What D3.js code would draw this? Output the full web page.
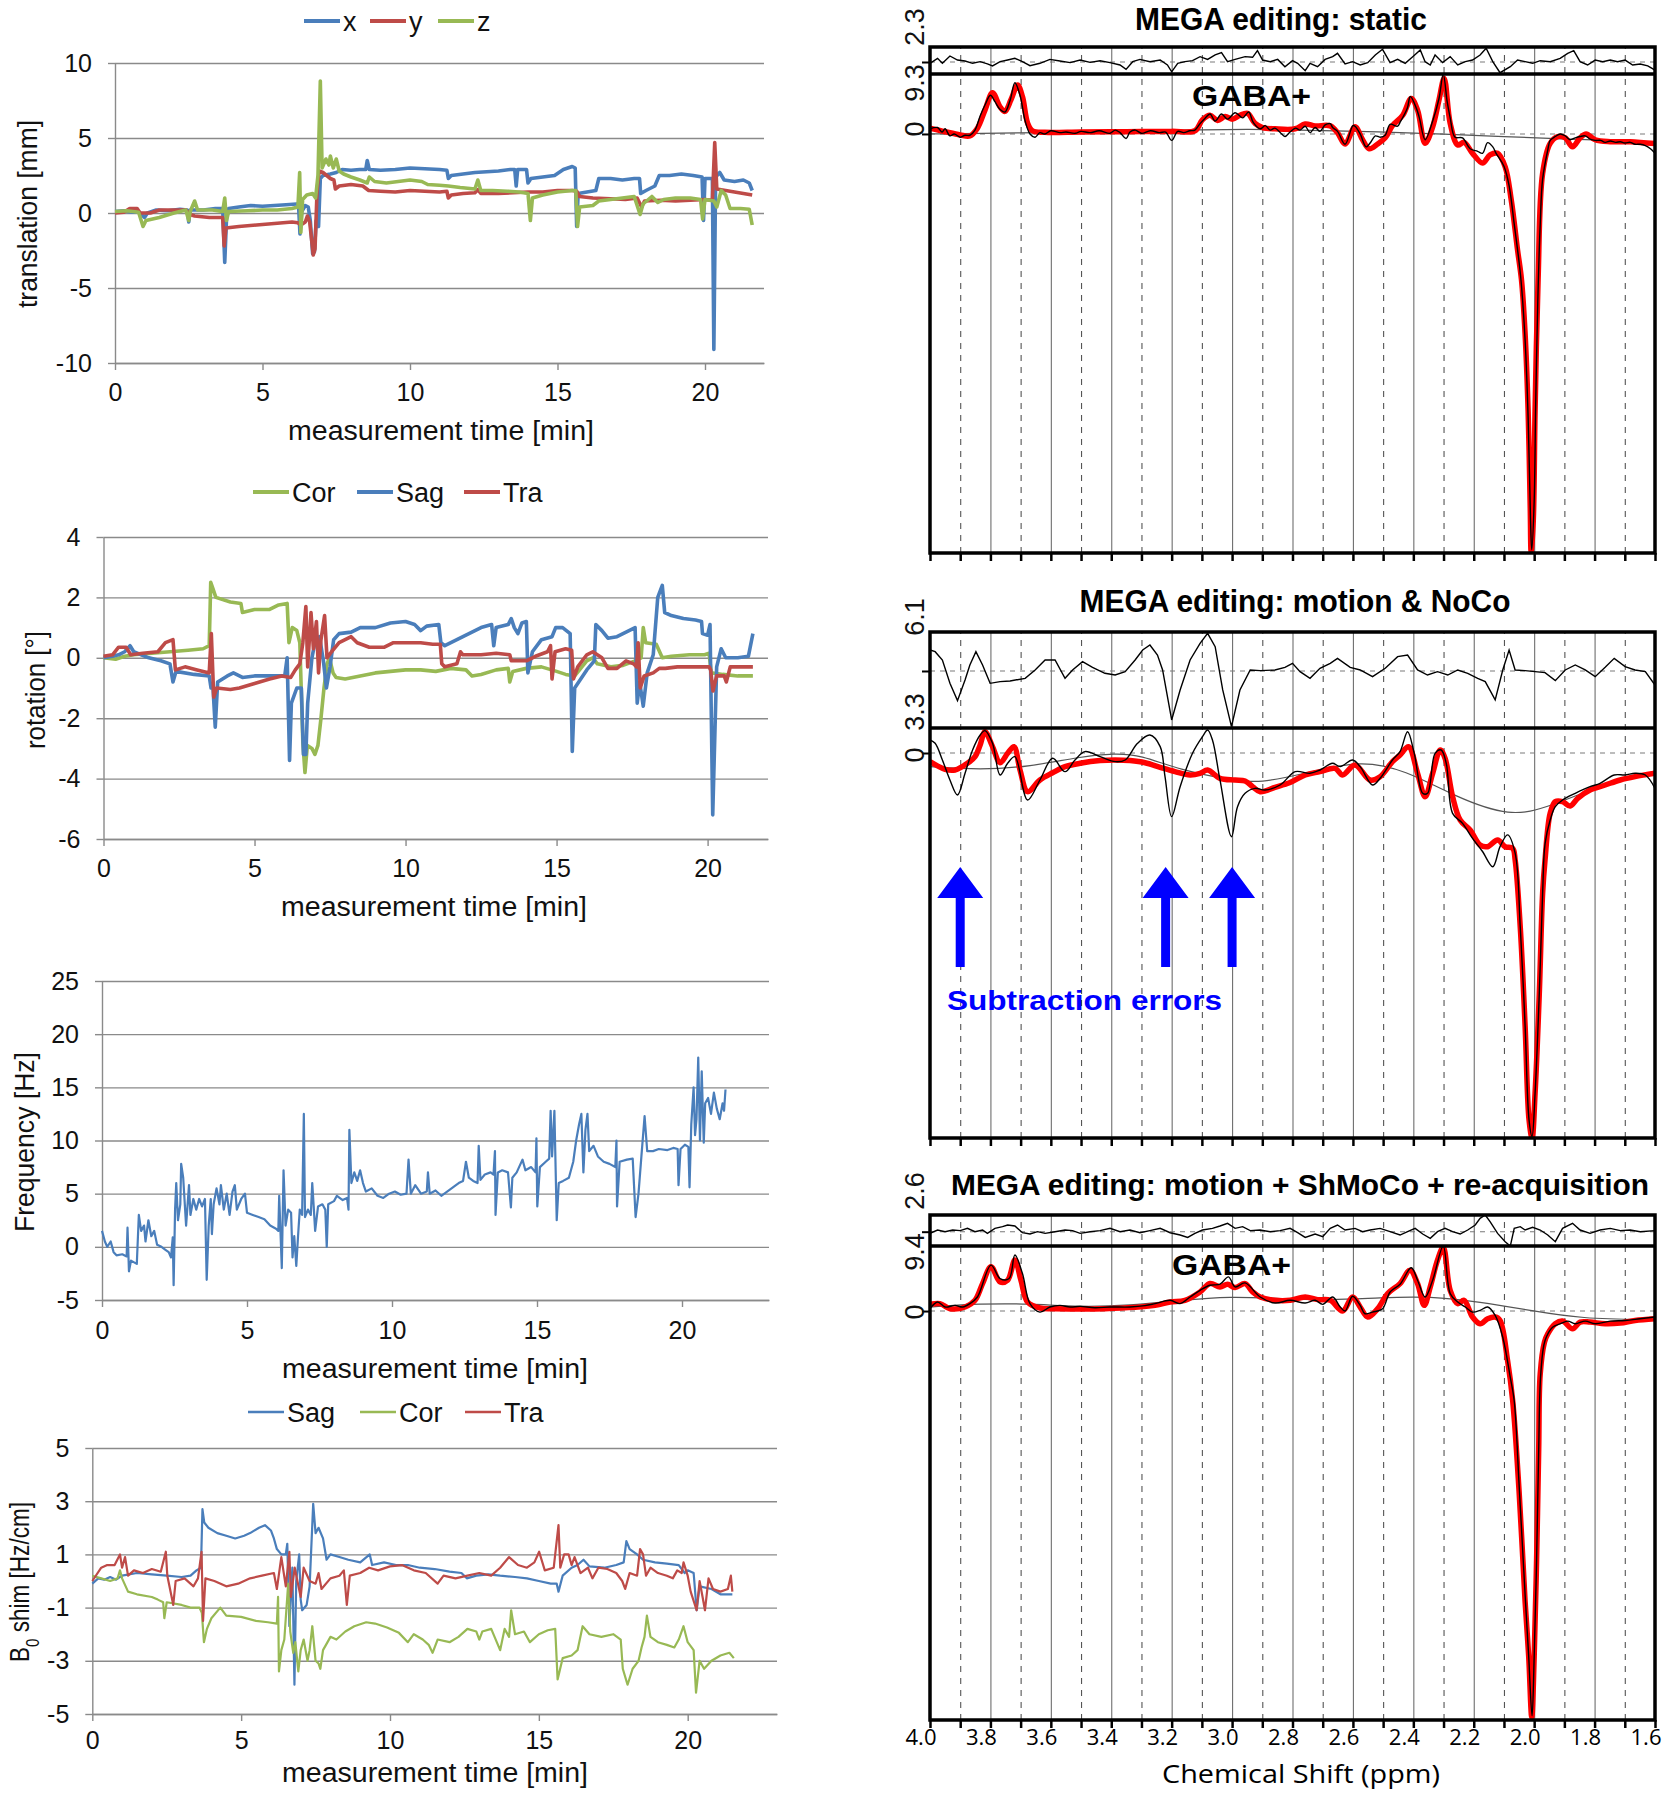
<!DOCTYPE html>
<html><head><meta charset="utf-8">
<script src="https://cdn.jsdelivr.net/npm/d3@7"></script>
<style>body{margin:0;background:#fff}svg{display:block}</style>
</head><body>
<svg id="c" width="1665" height="1800"></svg>
<script>
// ---------------- DATA ----------------
const timeTicks = [0, 5, 10, 15, 20];
const transTicks = [-10, -5, 0, 5, 10];
const rotTicks = [-6, -4, -2, 0, 2, 4];
const freqTicks = [-5, 0, 5, 10, 15, 20, 25];
const shimTicks = [-5, -3, -1, 1, 3, 5];

const transX = [[0,0.1],[0.3,0.15],[0.6,0.05],[0.8,0.1],[1.0,-0.3],[1.1,0.0],[1.4,0.2],[1.8,0.15],[2.2,0.25],[2.45,0.2],[2.5,-0.6],[2.55,0.2],[3.0,0.2],[3.4,0.3],[3.65,0.3],[3.72,-3.3],[3.78,-0.4],[3.85,0.3],[4.2,0.4],[4.6,0.5],[5.0,0.45],[5.4,0.5],[5.8,0.55],[6.15,0.6],[6.22,0.6],[6.27,-1.4],[6.33,0.1],[6.45,0.5],[6.55,0.4],[6.62,-0.5],[6.7,-2.7],[6.76,-2.6],[6.82,-0.5],[6.9,-0.9],[6.96,2.3],[7.05,2.5],[7.3,2.6],[7.5,2.7],[7.7,2.9],[8.0,2.85],[8.3,2.9],[8.5,2.9],[8.55,3.5],[8.62,2.9],[9.0,2.85],[9.5,2.9],[10.0,3.0],[10.5,2.95],[11.0,2.9],[11.25,2.85],[11.3,2.3],[11.4,2.5],[11.8,2.6],[12.2,2.7],[12.6,2.75],[13.0,2.8],[13.4,2.9],[13.55,2.9],[13.6,1.8],[13.65,2.9],[13.95,2.9],[14.0,2.0],[14.1,2.3],[14.5,2.4],[14.9,2.5],[15.2,2.9],[15.5,3.1],[15.6,3.0],[15.65,-0.9],[15.7,1.3],[16.0,1.4],[16.3,1.5],[16.4,2.3],[16.8,2.3],[17.2,2.2],[17.6,2.3],[17.78,2.3],[17.82,1.3],[18.0,1.5],[18.3,1.8],[18.45,2.5],[18.8,2.5],[19.2,2.6],[19.6,2.5],[19.9,2.4],[19.95,-0.5],[20.0,2.3],[20.25,2.3],[20.3,-9.1],[20.36,2.4],[20.5,2.7],[20.65,2.2],[21.0,2.1],[21.3,2.2],[21.5,2.0],[21.6,1.5]];
const transY = [[0,0.0],[0.3,0.05],[0.5,0.3],[0.75,0.3],[0.85,0.0],[1.2,0.0],[1.5,0.2],[2.0,0.2],[2.4,0.2],[2.55,-0.1],[2.7,-0.2],[3.2,-0.3],[3.65,-0.3],[3.7,-2.2],[3.76,-1.0],[4.2,-0.9],[4.8,-0.8],[5.4,-0.7],[6.0,-0.6],[6.2,-0.65],[6.3,-0.8],[6.45,-0.6],[6.52,-0.2],[6.6,-0.6],[6.72,-2.8],[6.78,-2.4],[6.85,1.5],[6.92,2.8],[7.05,2.7],[7.3,2.3],[7.42,2.2],[7.47,1.6],[7.6,1.8],[8.0,1.9],[8.4,1.8],[8.6,1.5],[9.0,1.45],[9.5,1.4],[10.0,1.5],[10.5,1.45],[11.0,1.4],[11.25,1.45],[11.3,1.0],[11.4,1.2],[11.8,1.3],[12.2,1.35],[12.3,1.55],[12.4,1.3],[13.0,1.3],[13.5,1.35],[14.0,1.4],[14.5,1.4],[15.0,1.5],[15.5,1.5],[15.65,1.45],[15.75,1.1],[16.2,1.0],[16.8,0.95],[17.3,0.9],[17.7,1.0],[17.85,0.4],[17.95,0.8],[18.5,0.85],[19.0,0.8],[19.5,0.85],[20.0,0.9],[20.25,0.85],[20.33,4.7],[20.4,1.6],[20.7,1.5],[21.0,1.4],[21.3,1.3],[21.6,1.2]];
const transZ = [[0,0.1],[0.4,0.15],[0.8,0.05],[0.95,-0.9],[1.05,-0.5],[1.5,-0.3],[2.0,0.0],[2.4,0.2],[2.5,-0.5],[2.55,0.1],[2.7,0.8],[2.8,0.2],[3.3,0.2],[3.65,0.1],[3.72,1.0],[3.78,-0.5],[3.85,0.1],[4.5,0.15],[5.0,0.2],[5.5,0.2],[6.0,0.3],[6.2,0.4],[6.26,2.7],[6.3,-1.3],[6.36,0.9],[6.5,1.2],[6.7,1.3],[6.8,1.0],[6.88,2.5],[6.96,8.8],[7.02,3.0],[7.15,3.6],[7.25,3.2],[7.3,3.8],[7.4,3.0],[7.5,3.6],[7.6,2.8],[7.75,2.6],[8.0,2.4],[8.3,2.2],[8.55,2.0],[8.62,2.4],[8.8,2.1],[9.2,2.0],[9.6,2.1],[10.0,2.2],[10.4,2.1],[10.6,1.9],[11.0,1.85],[11.3,1.8],[11.7,1.7],[12.2,1.6],[12.3,2.2],[12.4,1.5],[12.8,1.5],[13.3,1.45],[13.7,1.4],[14.0,1.3],[14.08,-0.5],[14.15,1.0],[14.5,1.2],[15.0,1.4],[15.5,1.5],[15.62,1.5],[15.68,-0.9],[15.75,0.4],[16.2,0.5],[16.4,0.8],[16.8,0.9],[17.2,1.0],[17.6,1.1],[17.8,-0.1],[17.9,0.6],[18.2,1.1],[18.4,0.7],[18.6,0.9],[19.0,1.0],[19.5,1.0],[19.85,0.9],[19.92,-0.4],[20.0,0.9],[20.3,0.8],[20.4,0.4],[20.55,1.5],[20.7,1.2],[20.85,0.3],[21.2,0.3],[21.5,0.25],[21.6,-0.8]];

const rotCor = [[0,0.0],[0.4,-0.05],[0.7,0.05],[1.0,0.1],[1.6,0.15],[2.2,0.2],[2.8,0.25],[3.3,0.3],[3.5,0.4],[3.55,2.5],[3.62,2.3],[3.72,2.0],[4.2,1.85],[4.55,1.8],[4.6,1.5],[5.0,1.6],[5.5,1.6],[5.8,1.75],[6.08,1.8],[6.14,0.5],[6.25,1.0],[6.4,0.9],[6.5,0.5],[6.6,-2.8],[6.67,-3.8],[6.75,-2.9],[6.9,-3.0],[7.0,-3.2],[7.1,-2.9],[7.2,-2.0],[7.3,-1.0],[7.4,-0.2],[7.48,0.0],[7.6,-0.5],[7.7,-0.65],[8.0,-0.7],[8.5,-0.6],[9.0,-0.5],[9.5,-0.45],[10.0,-0.4],[10.5,-0.4],[11.0,-0.45],[11.5,-0.35],[12.0,-0.4],[12.2,-0.6],[12.5,-0.55],[13.0,-0.4],[13.4,-0.35],[13.45,-0.8],[13.55,-0.45],[14.0,-0.35],[14.5,-0.3],[15.0,-0.45],[15.3,-0.55],[15.6,-0.6],[15.8,-0.35],[16.0,-0.1],[16.2,0.0],[16.35,-0.2],[16.8,-0.3],[17.2,-0.25],[17.6,-0.1],[17.8,0.0],[17.87,1.0],[17.95,0.5],[18.3,0.45],[18.5,0.0],[18.8,0.05],[19.4,0.1],[19.9,0.1],[20.05,0.15],[20.12,-0.5],[20.5,-0.55],[21.0,-0.6],[21.5,-0.6]];
const rotSag = [[0,0.0],[0.3,0.05],[0.5,0.1],[0.7,0.2],[0.88,0.4],[1.0,0.2],[1.5,0.0],[1.9,-0.1],[2.2,-0.2],[2.3,-0.8],[2.4,-0.45],[3.0,-0.55],[3.5,-0.6],[3.56,-1.0],[3.62,-0.9],[3.7,-2.3],[3.78,-0.8],[4.1,-0.6],[4.3,-0.5],[4.6,-0.65],[5.0,-0.6],[5.5,-0.6],[6.0,-0.6],[6.08,0.0],[6.16,-3.4],[6.22,-1.5],[6.4,-1.0],[6.55,-1.0],[6.62,-3.2],[6.7,-3.2],[6.76,-1.5],[6.9,0.0],[7.0,0.5],[7.15,0.7],[7.28,-0.1],[7.38,-1.0],[7.5,-0.3],[7.62,0.6],[7.8,0.8],[8.2,0.85],[8.5,1.0],[9.0,1.0],[9.5,1.15],[10.0,1.2],[10.3,1.1],[10.5,0.9],[10.7,1.05],[11.1,1.1],[11.17,0.5],[11.3,0.4],[11.7,0.6],[12.1,0.8],[12.5,1.0],[12.85,1.1],[12.92,0.4],[13.0,1.0],[13.4,1.1],[13.5,1.3],[13.6,1.0],[13.72,0.8],[13.85,1.15],[14.0,1.2],[14.05,-0.5],[14.2,0.2],[14.5,0.6],[14.85,0.7],[14.97,1.0],[15.2,1.0],[15.45,0.8],[15.52,-3.1],[15.6,-1.0],[15.8,-0.7],[16.0,-0.4],[16.25,-0.1],[16.3,1.1],[16.5,0.9],[16.7,0.65],[17.0,0.7],[17.3,0.85],[17.6,1.0],[17.67,-1.5],[17.75,-0.8],[17.87,-1.6],[18.0,-0.5],[18.2,0.1],[18.35,2.0],[18.5,2.4],[18.58,1.5],[18.8,1.4],[19.2,1.3],[19.6,1.25],[19.8,1.2],[19.83,0.8],[20.0,0.75],[20.08,1.1],[20.17,-5.2],[20.3,-0.3],[20.45,0.3],[20.6,0.0],[21.0,0.0],[21.35,0.05],[21.5,0.8]];
const rotTra = [[0,0.05],[0.3,0.1],[0.5,0.35],[0.75,0.35],[0.9,0.1],[1.3,0.15],[1.8,0.2],[2.05,0.5],[2.3,0.6],[2.38,-0.4],[2.7,-0.3],[3.1,-0.4],[3.5,-0.5],[3.57,0.8],[3.65,-1.3],[3.75,-1.0],[4.2,-1.05],[4.5,-1.0],[5.0,-0.85],[5.5,-0.7],[5.9,-0.6],[6.2,-0.65],[6.35,-0.4],[6.5,-0.2],[6.6,0.5],[6.7,1.7],[6.76,-0.3],[6.87,1.5],[6.95,0.3],[7.05,1.2],[7.12,-0.5],[7.2,0.6],[7.32,1.4],[7.4,0.0],[7.55,0.2],[7.8,0.5],[8.0,0.6],[8.2,0.7],[8.4,0.5],[8.8,0.35],[9.3,0.35],[9.6,0.5],[10.0,0.5],[10.5,0.5],[10.9,0.45],[11.15,0.45],[11.2,-0.2],[11.3,-0.3],[11.7,-0.2],[11.82,0.2],[11.9,0.1],[12.5,0.1],[13.0,0.15],[13.45,0.1],[13.5,-0.1],[14.0,-0.1],[14.3,0.05],[14.7,0.2],[14.8,0.4],[14.85,-0.7],[14.95,0.2],[15.3,0.3],[15.5,0.25],[15.56,-0.7],[15.7,-0.3],[16.0,0.1],[16.2,0.2],[16.5,0.0],[16.7,-0.35],[17.0,-0.35],[17.3,-0.1],[17.55,-0.2],[17.65,-0.3],[17.7,0.5],[17.77,-1.0],[17.9,-0.6],[18.2,-0.5],[18.4,-0.35],[18.6,-0.35],[19.0,-0.3],[19.5,-0.3],[20.05,-0.3],[20.1,-0.4],[20.18,-1.1],[20.3,-0.6],[20.55,-0.6],[20.62,-0.8],[20.75,-0.3],[21.0,-0.3],[21.5,-0.3]];

const freq = [[0,1.5],[0.1,0.5],[0.18,0.0],[0.3,0.5],[0.4,-0.5],[0.5,-0.8],[0.7,-0.7],[0.85,-0.9],[0.88,1.8],[0.93,-2.3],[1.0,-1.3],[1.2,-1.6],[1.27,3.0],[1.35,1.5],[1.45,2.0],[1.5,0.5],[1.6,2.5],[1.7,1.0],[1.8,1.5],[1.9,0.2],[2.05,0.0],[2.2,-0.3],[2.3,-0.5],[2.38,-1.0],[2.44,0.9],[2.47,-3.6],[2.52,3.5],[2.56,6.0],[2.62,2.5],[2.7,4.0],[2.73,7.8],[2.8,6.5],[2.9,2.0],[3.0,5.8],[3.05,3.0],[3.15,4.5],[3.25,3.5],[3.35,4.5],[3.45,3.8],[3.55,4.5],[3.61,-3.1],[3.68,2.0],[3.75,4.5],[3.79,1.2],[3.85,4.0],[3.95,5.5],[4.05,4.0],[4.1,5.8],[4.2,3.5],[4.3,5.0],[4.4,3.0],[4.5,5.2],[4.58,5.8],[4.65,3.5],[4.8,4.5],[4.93,5.0],[5.0,3.2],[5.2,3.0],[5.4,2.8],[5.6,2.6],[5.8,2.0],[6.0,1.7],[6.08,1.5],[6.11,4.8],[6.2,-2.0],[6.26,7.2],[6.33,2.0],[6.42,3.5],[6.52,3.2],[6.57,-1.0],[6.63,1.0],[6.7,-1.8],[6.76,1.0],[6.82,3.5],[6.9,3.0],[6.96,12.5],[7.0,2.8],[7.1,3.5],[7.2,3.0],[7.25,6.0],[7.3,3.8],[7.35,1.5],[7.45,3.8],[7.6,4.0],[7.7,3.5],[7.75,0.0],[7.8,4.0],[8.0,4.3],[8.1,4.8],[8.3,4.4],[8.45,4.6],[8.5,3.5],[8.53,11.0],[8.6,6.0],[8.7,7.0],[8.8,6.2],[8.9,7.2],[9.0,6.0],[9.1,5.2],[9.3,5.5],[9.5,4.8],[9.7,4.6],[9.9,5.0],[10.1,5.2],[10.3,4.9],[10.5,5.0],[10.57,8.2],[10.65,5.0],[10.8,5.8],[11.0,5.0],[11.2,5.2],[11.24,7.0],[11.3,5.0],[11.5,5.3],[11.7,4.8],[11.9,5.2],[12.1,5.6],[12.3,6.0],[12.45,6.2],[12.55,8.0],[12.65,6.5],[12.8,6.2],[12.95,6.0],[12.99,9.5],[13.05,6.3],[13.2,6.8],[13.4,7.0],[13.5,6.8],[13.55,9.0],[13.57,3.0],[13.65,7.0],[13.8,7.2],[14.0,7.0],[14.1,3.7],[14.15,6.5],[14.3,7.0],[14.5,8.2],[14.6,7.2],[14.8,7.5],[14.95,7.0],[14.98,10.2],[15.01,3.8],[15.1,7.5],[15.3,8.0],[15.42,8.3],[15.47,12.8],[15.52,8.5],[15.6,12.8],[15.68,2.5],[15.75,6.0],[15.9,6.2],[16.1,6.5],[16.25,8.0],[16.35,10.0],[16.45,11.5],[16.53,12.5],[16.6,7.0],[16.67,11.0],[16.74,12.5],[16.8,9.0],[16.95,9.5],[17.1,8.5],[17.3,8.0],[17.5,7.8],[17.7,7.5],[17.74,10.0],[17.76,3.8],[17.85,8.0],[18.1,8.2],[18.3,8.3],[18.4,2.8],[18.5,5.0],[18.6,8.5],[18.71,12.3],[18.8,9.0],[19.0,9.0],[19.2,9.2],[19.5,9.1],[19.7,9.3],[19.85,9.2],[19.88,5.8],[19.95,9.2],[20.1,9.6],[20.22,9.4],[20.26,5.6],[20.32,11.5],[20.4,15.0],[20.45,10.5],[20.5,12.0],[20.56,17.8],[20.62,10.0],[20.68,16.5],[20.75,9.8],[20.8,13.5],[20.9,14.0],[21.0,12.5],[21.1,14.5],[21.2,13.0],[21.3,12.0],[21.4,13.5],[21.45,12.8],[21.5,14.8]];

const shimSag = [[0,-0.1],[0.2,0.1],[0.4,0.05],[0.6,0.15],[0.8,0.05],[1.0,0.2],[1.5,0.3],[2.0,0.25],[2.5,0.2],[3.0,0.15],[3.3,0.2],[3.5,0.4],[3.65,0.5],[3.7,2.7],[3.76,2.2],[3.9,2.0],[4.2,1.8],[4.5,1.7],[4.8,1.6],[5.1,1.7],[5.3,1.8],[5.6,2.0],[5.8,2.1],[6.0,1.9],[6.1,1.6],[6.2,1.2],[6.35,1.0],[6.5,1.0],[6.55,1.4],[6.62,-1.7],[6.72,0.5],[6.79,-3.9],[6.85,0.0],[6.95,1.0],[7.0,-0.7],[7.05,-1.1],[7.2,-0.9],[7.3,-0.2],[7.42,2.9],[7.5,1.8],[7.6,2.0],[7.75,1.6],[7.87,0.8],[8.0,1.0],[8.3,0.9],[8.6,0.8],[9.0,0.7],[9.32,1.0],[9.4,0.6],[9.8,0.7],[10.2,0.6],[10.6,0.6],[11.0,0.5],[11.5,0.45],[12.0,0.35],[12.4,0.3],[12.58,0.1],[12.9,0.2],[13.3,0.25],[13.7,0.2],[14.2,0.15],[14.6,0.1],[15.0,0.0],[15.4,-0.1],[15.6,-0.1],[15.66,-0.4],[15.8,0.2],[16.1,0.5],[16.3,0.6],[16.5,0.8],[16.7,0.55],[17.2,0.5],[17.6,0.6],[17.85,0.7],[17.94,1.5],[18.05,1.2],[18.3,1.0],[18.5,0.8],[18.9,0.7],[19.3,0.65],[19.7,0.6],[19.9,0.3],[20.0,0.4],[20.2,0.3],[20.3,-1.1],[20.4,-0.2],[20.8,-0.3],[21.1,-0.5],[21.5,-0.5]];
const shimCor = [[0,0.2],[0.3,0.1],[0.6,0.0],[0.85,0.1],[0.93,0.4],[1.0,0.1],[1.2,-0.4],[1.5,-0.5],[2.0,-0.6],[2.2,-0.7],[2.38,-0.8],[2.42,-1.4],[2.5,-0.8],[3.0,-0.9],[3.3,-1.0],[3.6,-1.0],[3.68,-1.2],[3.75,-2.3],[3.85,-1.8],[4.0,-1.4],[4.3,-1.0],[4.5,-1.3],[5.0,-1.35],[5.5,-1.5],[5.9,-1.55],[6.2,-1.6],[6.24,-0.6],[6.27,-3.4],[6.35,-2.6],[6.45,-2.2],[6.58,-0.1],[6.65,-1.9],[6.75,-2.7],[6.82,-2.3],[6.92,-3.4],[7.0,-2.6],[7.1,-2.2],[7.23,-3.0],[7.3,-2.6],[7.39,-1.7],[7.5,-3.0],[7.6,-3.1],[7.66,-3.3],[7.75,-2.6],[7.85,-2.4],[8.0,-2.1],[8.2,-2.2],[8.5,-1.9],[8.8,-1.7],[9.2,-1.55],[9.5,-1.6],[9.9,-1.75],[10.3,-1.95],[10.6,-2.3],[10.8,-2.0],[11.1,-2.2],[11.3,-2.4],[11.43,-2.7],[11.6,-2.2],[12.0,-2.3],[12.3,-2.1],[12.6,-1.8],[12.9,-1.9],[13.0,-2.2],[13.1,-1.9],[13.4,-1.8],[13.7,-2.6],[13.85,-1.8],[14.0,-2.1],[14.07,-1.1],[14.2,-2.0],[14.5,-1.9],[14.7,-2.3],[15.0,-2.0],[15.3,-1.85],[15.55,-1.8],[15.63,-3.7],[15.8,-2.9],[16.1,-2.8],[16.3,-2.6],[16.47,-1.7],[16.7,-2.0],[17.1,-2.1],[17.5,-2.0],[17.75,-2.2],[17.82,-3.3],[17.98,-3.9],[18.15,-3.3],[18.35,-3.0],[18.45,-2.5],[18.55,-2.1],[18.63,-1.3],[18.75,-2.1],[19.0,-2.3],[19.3,-2.4],[19.55,-2.5],[19.7,-2.2],[19.86,-1.7],[20.0,-2.3],[20.2,-2.6],[20.28,-4.2],[20.4,-3.0],[20.55,-3.3],[20.8,-3.0],[21.1,-2.8],[21.4,-2.7],[21.55,-2.9]];
const shimTra = [[0,0.0],[0.3,0.5],[0.5,0.6],[0.75,0.6],[0.93,1.0],[1.0,0.5],[1.1,0.9],[1.2,0.2],[1.4,0.4],[1.7,0.3],[2.0,0.45],[2.3,0.35],[2.47,1.1],[2.52,0.2],[2.72,-0.9],[2.8,0.0],[3.1,0.1],[3.4,-0.2],[3.55,0.1],[3.67,1.1],[3.72,-1.5],[3.8,0.1],[4.1,0.0],[4.5,-0.2],[4.9,-0.1],[5.3,0.1],[5.7,0.2],[6.1,0.3],[6.2,-0.3],[6.3,0.5],[6.35,0.9],[6.5,-0.2],[6.62,1.1],[6.67,-0.6],[6.8,0.5],[7.0,-0.6],[7.1,0.5],[7.3,0.0],[7.5,-0.1],[7.6,0.3],[7.7,-0.3],[8.0,0.1],[8.3,0.2],[8.45,0.4],[8.55,-0.9],[8.65,0.2],[9.0,0.3],[9.3,0.5],[9.6,0.4],[10.0,0.55],[10.4,0.6],[10.8,0.4],[11.2,0.3],[11.6,-0.1],[11.8,0.2],[12.2,0.1],[12.6,0.2],[13.0,0.3],[13.4,0.2],[13.7,0.5],[14.0,0.9],[14.3,0.6],[14.6,0.5],[14.85,0.7],[15.01,1.1],[15.2,0.4],[15.5,0.5],[15.66,2.1],[15.72,0.5],[15.85,1.0],[16.0,1.0],[16.1,0.6],[16.2,0.9],[16.4,0.3],[16.65,0.5],[16.8,0.1],[17.0,0.5],[17.3,0.45],[17.6,0.3],[17.8,0.0],[17.9,-0.3],[18.05,0.3],[18.3,0.2],[18.4,1.2],[18.5,1.0],[18.6,0.2],[18.75,0.5],[19.0,0.3],[19.3,0.2],[19.5,0.1],[19.65,0.4],[19.8,0.3],[19.86,0.7],[20.0,0.2],[20.1,-0.4],[20.3,-1.1],[20.4,0.0],[20.5,-0.6],[20.58,-1.1],[20.7,0.1],[20.85,-0.3],[21.1,-0.4],[21.35,-0.3],[21.45,0.2],[21.5,-0.4]];

// spectra: [ppm, amplitude]
const ppmTickLabels = ['4.0','3.8','3.6','3.4','3.2','3.0','2.8','2.6','2.4','2.2','2.0','1.8','1.6'];
const arrowPpm = [3.9, 3.22, 3.0];

const staticRes = [[4.0,-0.2],[3.975,0.56],[3.959,-0.2],[3.934,0.92],[3.909,0.3],[3.884,0.15],[3.859,-0.2],[3.834,0.05],[3.81,-0.3],[3.793,-0.6],[3.768,0.05],[3.743,0.3],[3.719,0.56],[3.694,0.05],[3.669,-0.56],[3.636,-0.2],[3.603,0.4],[3.57,0.15],[3.536,-0.1],[3.503,0.3],[3.47,-0.05],[3.437,0.2],[3.404,-0.1],[3.371,-0.46],[3.351,-1.13],[3.329,0.05],[3.305,0.4],[3.272,0.05],[3.238,0.3],[3.214,-0.46],[3.2,-1.5],[3.18,-0.2],[3.156,0.05],[3.131,0.2],[3.106,0.82],[3.081,0.4],[3.056,1.08],[3.035,1.44],[3.015,0.05],[2.99,0.4],[2.957,0.82],[2.932,0.72],[2.916,1.74],[2.899,0.3],[2.874,0.05],[2.849,0.4],[2.825,-0.72],[2.8,0.2],[2.783,-0.2],[2.758,-1.33],[2.742,-0.2],[2.717,-0.72],[2.692,0.4],[2.667,0.82],[2.651,1.33],[2.626,-0.3],[2.601,0.05],[2.576,-0.46],[2.551,-0.1],[2.526,1.08],[2.502,1.95],[2.477,-0.1],[2.452,0.4],[2.427,-0.2],[2.402,0.82],[2.377,1.85],[2.361,0.05],[2.344,-0.46],[2.328,1.08],[2.303,-0.1],[2.278,0.82],[2.253,-0.46],[2.228,0.05],[2.204,0.3],[2.179,1.08],[2.159,2.1],[2.137,0.05],[2.113,-1.64],[2.079,-0.72],[2.055,0.3],[2.03,0.05],[2.005,-0.2],[1.98,0.2],[1.947,0.05],[1.914,0.56],[1.889,1.33],[1.869,1.74],[1.848,0.05],[1.823,-0.46],[1.798,0.3],[1.773,0.05],[1.748,0.3],[1.724,0.05],[1.699,0.3],[1.674,-0.46],[1.649,-0.3],[1.624,-0.6],[1.6,-1.23]];
const staticData = [[4.0,0.8],[3.975,1.0],[3.96,0.3],[3.95,0.8],[3.934,-0.3],[3.92,0.0],[3.90,-0.5],[3.884,-0.2],[3.868,-0.2],[3.851,0.6],[3.834,2.8],[3.818,4.5],[3.80,6.0],[3.785,5.0],[3.768,3.8],[3.752,3.4],[3.735,5.2],[3.719,7.95],[3.702,6.0],[3.685,2.0],[3.669,0.0],[3.652,-0.5],[3.636,0.2],[3.62,0.0],[3.60,0.5],[3.57,0.2],[3.55,0.3],[3.52,0.1],[3.50,0.4],[3.47,0.2],[3.44,0.5],[3.404,0.1],[3.387,0.6],[3.371,0.2],[3.351,-0.7],[3.338,0.3],[3.32,0.6],[3.30,0.1],[3.27,0.5],[3.24,0.2],[3.22,0.3],[3.20,-1.0],[3.18,0.4],[3.16,0.2],[3.14,0.5],[3.123,0.6],[3.106,1.6],[3.09,2.4],[3.073,3.1],[3.056,2.0],[3.035,3.1],[3.015,2.3],[2.99,3.3],[2.965,2.5],[2.945,3.4],[2.93,1.8],[2.907,0.8],[2.89,1.3],[2.874,0.6],[2.858,0.9],[2.84,0.2],[2.825,-0.4],[2.808,0.3],[2.79,0.9],[2.775,0.6],[2.758,1.2],[2.742,0.2],[2.725,1.0],[2.709,0.4],[2.692,1.4],[2.675,1.6],[2.667,1.0],[2.651,0.4],[2.626,-1.6],[2.60,1.3],[2.593,1.2],[2.576,0.0],[2.556,-2.0],[2.54,-1.2],[2.526,-0.3],[2.51,-0.5],[2.493,-0.2],[2.477,1.5],[2.452,1.2],[2.444,1.8],[2.42,4.0],[2.41,5.8],[2.39,4.0],[2.38,2.5],[2.361,-0.9],[2.336,2.0],[2.315,5.5],[2.301,9.3],[2.288,5.0],[2.278,2.5],[2.262,-0.5],[2.237,-0.6],[2.212,-2.3],[2.187,-2.7],[2.171,-3.0],[2.154,-1.35],[2.137,-2.0],[2.126,-3.0],[2.10,-5.0],[2.083,-8.0],[2.066,-14],[2.045,-22],[2.03,-32],[2.02,-44],[2.012,-60],[2.008,-64.5],[2.0,-57],[1.995,-42],[1.988,-26],[1.98,-14],[1.972,-7],[1.955,-2.5],[1.947,-1.0],[1.93,-0.4],[1.914,0.0],[1.897,-0.3],[1.881,-0.9],[1.864,-0.6],[1.848,-0.4],[1.831,-0.3],[1.815,-0.8],[1.798,-1.0],[1.78,-1.0],[1.765,-1.3],[1.748,-1.1],[1.73,-1.3],[1.715,-1.2],[1.70,-1.4],[1.682,-1.3],[1.666,-1.6],[1.649,-1.6],[1.632,-1.8],[1.615,-2.3],[1.6,-3.0]];
const staticFit = [[4.0,0.9],[3.95,0.35],[3.90,-0.15],[3.868,-0.3],[3.843,0.9],[3.818,3.7],[3.793,6.4],[3.768,4.2],[3.752,3.5],[3.732,5.3],[3.71,7.6],[3.694,5.8],[3.677,1.7],[3.661,0.5],[3.62,0.25],[3.5,0.3],[3.35,0.35],[3.2,0.4],[3.123,0.5],[3.098,2.2],[3.073,2.9],[3.048,2.1],[3.023,2.7],[2.998,2.3],[2.974,2.9],[2.949,3.2],[2.924,1.65],[2.899,1.0],[2.858,0.8],[2.791,0.8],[2.758,1.55],[2.725,1.25],[2.675,1.25],[2.651,0.2],[2.626,-1.55],[2.593,1.1],[2.568,-0.9],[2.546,-2.3],[2.518,-1.55],[2.493,-0.6],[2.469,1.3],[2.435,2.9],[2.407,5.5],[2.386,3.7],[2.361,-1.45],[2.336,1.1],[2.315,5.3],[2.298,8.6],[2.278,1.65],[2.253,-1.7],[2.232,-1.3],[2.204,-3.0],[2.171,-4.5],[2.146,-3.25],[2.121,-3.0],[2.096,-5.1],[2.076,-10.2],[2.055,-18],[2.042,-22.6],[2.03,-31],[2.02,-43],[2.013,-58],[2.01,-64.8],[2.003,-60],[1.997,-43],[1.987,-22.6],[1.972,-6.1],[1.947,-1.45],[1.922,-0.4],[1.897,-0.6],[1.873,-2.0],[1.848,-0.6],[1.828,0],[1.798,-0.9],[1.748,-1.2],[1.682,-1.2],[1.6,-1.5]];
const staticBase = [[4.0,0.0],[3.7,0.15],[3.4,0.4],[3.1,0.65],[2.95,0.75],[2.8,0.65],[2.5,0.3],[2.3,0.0],[2.1,-0.4],[1.9,-0.8],[1.75,-1.0],[1.6,-1.2]];

const motionRes = [[4.0,3.28],[3.983,3.02],[3.959,1.72],[3.934,-1.93],[3.909,-4.64],[3.884,-1.41],[3.868,0.94],[3.848,3.02],[3.826,0.94],[3.801,-1.93],[3.768,-1.67],[3.735,-1.56],[3.685,-1.15],[3.652,0.16],[3.619,1.72],[3.586,1.72],[3.553,-1.15],[3.528,0.16],[3.495,1.46],[3.462,0.57],[3.421,-0.36],[3.387,-0.63],[3.354,-0.1],[3.321,1.72],[3.296,3.28],[3.272,4.06],[3.247,2.5],[3.23,0.16],[3.2,-7.66],[3.172,-2.97],[3.139,1.72],[3.106,4.32],[3.081,5.89],[3.056,3.8],[3.031,-2.97],[3.002,-8.7],[2.974,-2.97],[2.94,0.16],[2.907,0.05],[2.858,0.16],[2.825,0.57],[2.8,1.2],[2.775,-0.1],[2.742,-1.15],[2.709,0.42],[2.675,1.2],[2.651,1.98],[2.609,0.57],[2.576,0.16],[2.535,-0.89],[2.493,0.42],[2.452,2.24],[2.419,2.5],[2.386,0.16],[2.353,-0.63],[2.32,-0.1],[2.286,-0.63],[2.253,0.16],[2.22,-0.36],[2.187,-1.15],[2.162,-1.67],[2.129,-4.53],[2.104,0.16],[2.083,3.28],[2.063,0.16],[2.03,0.05],[1.997,-0.1],[1.964,-0.26],[1.93,-1.51],[1.897,0.16],[1.864,0.94],[1.831,0.16],[1.798,-0.89],[1.765,0.57],[1.735,1.98],[1.699,0.68],[1.666,0.16],[1.632,-0.1],[1.6,-2.19]];
const motionData = [[4.0,1.72],[3.983,1.28],[3.959,-0.92],[3.934,-3.56],[3.909,-5.54],[3.884,-2.68],[3.859,0.4],[3.834,2.37],[3.818,2.95],[3.793,1.28],[3.768,-2.9],[3.743,-1.36],[3.719,-0.48],[3.677,-6.2],[3.636,-3.56],[3.594,-0.7],[3.553,-2.46],[3.52,-0.92],[3.487,0.18],[3.437,-0.48],[3.387,-1.14],[3.354,-0.92],[3.313,1.28],[3.272,2.37],[3.238,0.84],[3.222,-3.12],[3.2,-8.4],[3.172,-4.44],[3.131,-0.04],[3.098,2.15],[3.081,3.03],[3.065,1.72],[3.04,-3.56],[3.002,-11.04],[2.982,-7.08],[2.957,-5.32],[2.924,-4.66],[2.891,-4.88],[2.841,-4.22],[2.791,-2.46],[2.742,-2.68],[2.709,-2.24],[2.667,-1.36],[2.642,-1.8],[2.601,-0.92],[2.576,-1.8],[2.535,-4.22],[2.51,-3.34],[2.469,-0.92],[2.444,0.18],[2.419,2.81],[2.397,-0.04],[2.369,-5.32],[2.353,-5.32],[2.328,-0.04],[2.308,0.4],[2.291,-1.36],[2.27,-7.96],[2.237,-9.28],[2.204,-11.26],[2.171,-13.0],[2.137,-15.0],[2.113,-12.36],[2.088,-10.8],[2.063,-13.2],[2.046,-23],[2.03,-36],[2.017,-48.4],[2.007,-50.6],[1.997,-44.9],[1.983,-31.7],[1.972,-18.5],[1.964,-12],[1.947,-8.84],[1.93,-7.08],[1.906,-6.2],[1.864,-5.32],[1.815,-4.44],[1.782,-4.0],[1.735,-2.9],[1.699,-2.9],[1.666,-2.68],[1.632,-2.9],[1.6,-4.66]];
const motionFit = [[4.0,-1.14],[3.95,-2.15],[3.917,-2.24],[3.876,-1.36],[3.851,-0.48],[3.834,1.06],[3.818,2.81],[3.793,0.84],[3.768,-1.28],[3.743,-0.04],[3.722,0.84],[3.702,-2.24],[3.677,-5.1],[3.636,-3.56],[3.594,-2.6],[3.553,-1.8],[3.503,-1.36],[3.437,-1.0],[3.387,-0.92],[3.338,-1.0],[3.288,-1.28],[3.238,-1.89],[3.189,-2.46],[3.139,-2.9],[3.106,-2.68],[3.081,-2.24],[3.04,-3.34],[2.99,-3.56],[2.957,-3.69],[2.932,-4.44],[2.907,-5.1],[2.858,-4.53],[2.808,-3.9],[2.758,-2.9],[2.709,-2.46],[2.659,-2.02],[2.634,-2.9],[2.593,-1.58],[2.543,-3.56],[2.51,-3.12],[2.469,-1.14],[2.444,-0.26],[2.416,0.84],[2.386,-2.68],[2.361,-5.76],[2.336,-2.68],[2.311,0.4],[2.295,-0.7],[2.27,-5.76],[2.245,-8.84],[2.212,-10.16],[2.179,-12.14],[2.154,-12.36],[2.121,-11.48],[2.096,-12.36],[2.071,-12.58],[2.063,-14.1],[2.046,-23],[2.03,-36],[2.017,-48.4],[2.007,-50.8],[1.997,-44.9],[1.983,-31.7],[1.972,-18.5],[1.964,-14.1],[1.947,-7.96],[1.93,-6.42],[1.906,-6.42],[1.881,-7.0],[1.856,-5.98],[1.815,-4.88],[1.765,-4.22],[1.715,-3.56],[1.666,-3.12],[1.6,-2.68]];
const motionBase = [[4.0,-1.8],[3.834,-2.24],[3.669,-1.8],[3.503,-0.48],[3.387,-0.04],[3.305,-0.26],[3.172,-2.24],[3.007,-3.56],[2.907,-4.0],[2.758,-2.68],[2.576,-0.92],[2.427,-2.24],[2.262,-5.76],[2.079,-8.49],[1.947,-7.08],[1.765,-4.0],[1.6,-2.68]];

const shmocoRes = [[4.0,-0.26],[3.975,0.26],[3.95,0],[3.925,0.26],[3.9,0.16],[3.876,0.52],[3.851,0],[3.826,0.26],[3.81,-0.26],[3.785,0.52],[3.76,0.78],[3.743,1.04],[3.719,0.89],[3.694,-0.16],[3.669,-0.36],[3.644,0],[3.619,-0.26],[3.586,0],[3.553,0.26],[3.528,0.16],[3.503,-0.26],[3.47,0],[3.437,0.16],[3.404,0.52],[3.371,0],[3.338,0.26],[3.305,-0.16],[3.272,0.16],[3.238,0.52],[3.205,-0.16],[3.172,-0.52],[3.147,-0.89],[3.123,-0.26],[3.098,0.26],[3.065,0.52],[3.04,0.89],[3.015,1.3],[2.99,0.52],[2.965,0.78],[2.94,0.16],[2.907,0.26],[2.874,0],[2.841,0.16],[2.808,0.52],[2.783,-0.16],[2.758,-0.89],[2.725,-0.36],[2.7,-0.78],[2.675,0.52],[2.651,1.04],[2.626,0.26],[2.593,0.52],[2.568,0],[2.543,0.26],[2.51,0.52],[2.477,0],[2.444,-0.52],[2.419,0],[2.394,0.52],[2.369,-0.36],[2.344,-1.04],[2.32,0],[2.295,0.52],[2.27,0],[2.245,-0.36],[2.22,0.26],[2.195,1.04],[2.179,2.08],[2.162,2.6],[2.146,1.56],[2.121,-0.26],[2.096,-1.56],[2.079,-2.24],[2.066,0.52],[2.046,0.78],[2.03,0.26],[2.005,0.68],[1.98,0.26],[1.955,-0.52],[1.93,-1.56],[1.906,0.52],[1.873,1.3],[1.848,0.26],[1.815,-0.26],[1.782,0.26],[1.748,0.52],[1.715,0.16],[1.682,0.26],[1.649,0],[1.6,0.16]];
const shmocoData = [[4.0,0.34],[3.975,1.31],[3.95,0.58],[3.917,0.82],[3.892,0.58],[3.868,1.07],[3.843,2.03],[3.798,6.64],[3.768,4.7],[3.738,4.7],[3.719,8.09],[3.694,5.43],[3.669,1.07],[3.636,-0.15],[3.603,0.58],[3.57,0.82],[3.536,0.58],[3.503,0.68],[3.454,0.48],[3.404,0.58],[3.338,0.58],[3.288,0.78],[3.255,1.07],[3.205,1.55],[3.172,1.07],[3.139,2.03],[3.106,3.0],[3.073,3.73],[3.04,3.88],[3.012,4.94],[2.99,3.49],[2.957,4.07],[2.907,2.03],[2.858,1.16],[2.808,1.55],[2.758,1.16],[2.725,1.55],[2.7,0.97],[2.667,2.03],[2.642,0.58],[2.626,0],[2.601,2.13],[2.576,0.82],[2.56,-0.39],[2.535,-0.15],[2.502,0.34],[2.477,2.76],[2.444,3.88],[2.407,6.25],[2.386,4.46],[2.361,2.03],[2.336,4.46],[2.301,9.4],[2.278,2.52],[2.253,1.31],[2.228,0.58],[2.204,-0.15],[2.179,0.1],[2.154,0.58],[2.129,-0.63],[2.104,-3.78],[2.079,-9.6],[2.066,-13],[2.05,-25],[2.03,-41],[2.018,-50],[2.007,-58.5],[2.0,-50],[1.992,-36],[1.985,-20],[1.978,-9],[1.964,-4.26],[1.939,-2.33],[1.914,-1.84],[1.889,-1.45],[1.864,-1.84],[1.831,-1.45],[1.798,-1.84],[1.748,-1.45],[1.699,-1.36],[1.649,-1.11],[1.6,-0.87]];
const shmocoFit = [[4.0,0.97],[3.967,1.07],[3.934,0.34],[3.884,0.58],[3.851,1.55],[3.826,3.97],[3.798,6.4],[3.768,4.2],[3.743,4.46],[3.719,7.36],[3.699,4.46],[3.677,1.31],[3.636,0.44],[3.586,0.34],[3.421,0.34],[3.255,0.82],[3.205,1.31],[3.156,1.55],[3.106,2.76],[3.073,3.97],[3.04,3.49],[3.015,3.88],[2.99,3.39],[2.957,3.97],[2.932,2.76],[2.907,2.03],[2.858,1.55],[2.808,1.55],[2.758,2.03],[2.717,1.65],[2.675,1.55],[2.634,0.0],[2.601,2.03],[2.576,0.58],[2.551,-0.87],[2.518,0.34],[2.485,2.52],[2.444,3.97],[2.411,5.91],[2.386,3.97],[2.364,0.82],[2.344,3.49],[2.32,7.36],[2.301,9.2],[2.278,3.0],[2.253,1.07],[2.232,1.55],[2.204,-0.87],[2.179,-1.84],[2.154,-1.11],[2.129,-0.87],[2.113,-1.36],[2.088,-7.17],[2.071,-13.0],[2.05,-26],[2.03,-42],[2.018,-50],[2.008,-58.7],[2.0,-50],[1.992,-36],[1.985,-20],[1.98,-9.1],[1.966,-4.5],[1.955,-3.3],[1.93,-1.84],[1.906,-1.45],[1.873,-2.57],[1.848,-1.6],[1.815,-1.6],[1.765,-1.84],[1.715,-1.74],[1.666,-1.36],[1.6,-1.11]];
const shmocoBase = [[4.0,0.58],[3.834,1.07],[3.669,1.07],[3.503,0.58],[3.338,0.82],[3.172,1.55],[3.007,2.13],[2.841,1.79],[2.675,1.55],[2.51,1.94],[2.344,2.13],[2.179,1.31],[2.013,0.1],[1.848,-1.11],[1.6,-1.26]];

// ---------------- DRAWING ----------------
const svg = d3.select('#c');
const defs = svg.append('defs');
const FONT = "'Liberation Sans', Arial, Helvetica, sans-serif";
const BLUE = '#4a7ebb', RED = '#be4b48', GREEN = '#98b954', GRID = '#8a8a8a';
const plainNum = d => String(d);

function timePanel(p) {
  const x = d3.scaleLinear().domain([0, p.xMax]).range([p.left, p.right]);
  const y = d3.scaleLinear().domain(p.yDom).range([p.bottom, p.top]);
  const g = svg.append('g');
  g.append('g').attr('transform', `translate(${p.left},0)`)
    .call(d3.axisLeft(y).tickValues(p.yTicks).tickSize(-(p.right - p.left)).tickFormat(''))
    .call(a => { a.select('.domain').remove(); a.selectAll('line').attr('stroke', GRID).attr('stroke-width', 1.4); });
  g.append('g').attr('transform', `translate(${p.left},0)`)
    .call(d3.axisLeft(y).tickValues(p.yTicks).tickFormat(plainNum).tickSizeInner(7).tickSizeOuter(0).tickPadding(16))
    .call(a => {
      a.attr('font-family', FONT).attr('font-size', 25);
      a.select('.domain').attr('stroke', GRID).attr('stroke-width', 1.4);
      a.selectAll('line').attr('stroke', GRID).attr('stroke-width', 1.4);
      a.selectAll('text').attr('fill', '#111');
    });
  g.append('g').attr('transform', `translate(0,${p.bottom})`)
    .call(d3.axisBottom(x).tickValues(timeTicks).tickFormat(plainNum).tickSizeInner(7).tickSizeOuter(0).tickPadding(p.xPad))
    .call(a => {
      a.attr('font-family', FONT).attr('font-size', 25);
      a.select('.domain').attr('stroke', GRID).attr('stroke-width', 1.4);
      a.selectAll('line').attr('stroke', GRID).attr('stroke-width', 1.4);
      a.selectAll('text').attr('fill', '#111');
    });
  const line = d3.line().x(d => x(d[0])).y(d => y(d[1]));
  p.series.forEach(s => {
    g.append('path').attr('d', line(s.data)).attr('fill', 'none')
      .attr('stroke', s.color).attr('stroke-width', p.lw).attr('stroke-linejoin', 'round');
  });
  if (p.legend) {
    p.legend.forEach(l => {
      g.append('line').attr('x1', l.x).attr('x2', l.x + 36).attr('y1', p.legendY).attr('y2', p.legendY)
        .attr('stroke', l.color).attr('stroke-width', p.legendLw);
      g.append('text').attr('x', l.x + 39).attr('y', p.legendY).attr('dy', '0.36em')
        .attr('font-family', FONT).attr('font-size', 27).attr('fill', '#111').text(l.name);
    });
  }
  g.append('text').attr('x', p.xTitle[0]).attr('y', p.xTitle[1]).attr('text-anchor', 'middle')
    .attr('font-family', FONT).attr('font-size', 27).attr('fill', '#111')
    .attr('textLength', 306).attr('lengthAdjust', 'spacingAndGlyphs').text('measurement  time  [min]');
  const yt = g.append('text').attr('transform', `translate(${p.yTitle[0]},${p.yTitle[1]}) rotate(-90)`)
    .attr('text-anchor', 'middle').attr('dy', '0.35em')
    .attr('font-family', FONT).attr('font-size', 27).attr('fill', '#111')
    .attr('textLength', p.yTitle[2]).attr('lengthAdjust', 'spacingAndGlyphs');
  if (p.yTitleParts) {
    p.yTitleParts.forEach(t => {
      const ts = yt.append('tspan').text(t.t);
      if (t.sub) ts.attr('font-size', 18).attr('baseline-shift', 'sub');
    });
  } else yt.text(p.yTitleText);
}

timePanel({left: 115, right: 764, xMax: 22, top: 63, bottom: 363, yDom: [-10, 10], yTicks: transTicks, xPad: 13, lw: 3.6,
  series: [{data: transX, color: BLUE}, {data: transY, color: RED}, {data: transZ, color: GREEN}],
  legendY: 21, legendLw: 4,
  legend: [{name: 'x', color: BLUE, x: 304}, {name: 'y', color: RED, x: 370}, {name: 'z', color: GREEN, x: 438}],
  xTitle: [441, 440], yTitle: [28, 214, 188], yTitleText: 'translation [mm]'});

timePanel({left: 103.5, right: 768, xMax: 22, top: 537, bottom: 839, yDom: [-6, 4], yTicks: rotTicks, xPad: 13, lw: 3.6,
  series: [{data: rotCor, color: GREEN}, {data: rotSag, color: BLUE}, {data: rotTra, color: RED}],
  legendY: 492, legendLw: 4,
  legend: [{name: 'Cor', color: GREEN, x: 253}, {name: 'Sag', color: BLUE, x: 357}, {name: 'Tra', color: RED, x: 464}],
  xTitle: [434, 916], yTitle: [36, 690, 118], yTitleText: 'rotation [°]'});

timePanel({left: 102, right: 769, xMax: 23, top: 981, bottom: 1300, yDom: [-5, 25], yTicks: freqTicks, xPad: 14, lw: 2.2,
  series: [{data: freq, color: BLUE}],
  xTitle: [435, 1378], yTitle: [25, 1142, 180], yTitleText: 'Frequency [Hz]'});

timePanel({left: 92.3, right: 777, xMax: 23, top: 1448, bottom: 1714, yDom: [-5, 5], yTicks: shimTicks, xPad: 10, lw: 2.2,
  series: [{data: shimSag, color: BLUE}, {data: shimCor, color: GREEN}, {data: shimTra, color: RED}],
  legendY: 1412, legendLw: 2.5,
  legend: [{name: 'Sag', color: BLUE, x: 248}, {name: 'Cor', color: GREEN, x: 360}, {name: 'Tra', color: RED, x: 465}],
  xTitle: [435, 1782], yTitle: [20, 1582, 160],
  yTitleParts: [{t: 'B'}, {t: '0', sub: true}, {t: ' shim [Hz/cm]'}]});

// ---- spectra ----
const xPpm = d3.scaleLinear().domain([4.0, 1.6]).range([930, 1655]);
const tenthTicks = d3.range(40, 15, -1).map(v => v / 10);
const solidTicks = tenthTicks.filter(v => Math.round(v * 10) % 2 === 0 && v < 3.95 && v > 1.65);
const dashTicks = tenthTicks.filter(v => Math.round(v * 10) % 2 === 1);

function specPanel(p) {
  const yR = d3.scaleLinear().domain(p.resDom).range([p.sep, p.resTop]);
  const yM = d3.scaleLinear().domain(p.mainDom).range([p.bottom, p.sep]);
  const g = svg.append('g');
  defs.append('clipPath').attr('id', p.id + 'r').append('rect')
    .attr('x', 930).attr('y', p.resTop).attr('width', 725).attr('height', p.sep - p.resTop);
  defs.append('clipPath').attr('id', p.id + 'm').append('rect')
    .attr('x', 930).attr('y', p.sep).attr('width', 725).attr('height', p.bottom - p.sep);
  const H = p.bottom - p.resTop;
  g.append('g').attr('transform', `translate(0,${p.bottom})`)
    .call(d3.axisBottom(xPpm).tickValues(solidTicks).tickSize(-H).tickFormat(''))
    .call(a => { a.select('.domain').remove(); a.selectAll('line').attr('stroke', '#6e6e6e').attr('stroke-width', 1.1); });
  g.append('g').attr('transform', `translate(0,${p.bottom})`)
    .call(d3.axisBottom(xPpm).tickValues(dashTicks).tickSize(-H).tickFormat(''))
    .call(a => { a.select('.domain').remove(); a.selectAll('line').attr('stroke', '#555').attr('stroke-width', 1.1).attr('stroke-dasharray', '6,6'); });
  [yR(0), yM(0)].forEach(yy => g.append('line').attr('x1', 930).attr('x2', 1655).attr('y1', yy).attr('y2', yy)
    .attr('stroke', '#7a7a7a').attr('stroke-width', 1.1).attr('stroke-dasharray', '5,5'));
  const lm = d3.line().x(d => xPpm(d[0])).y(d => yM(d[1]));
  const lr = d3.line().x(d => xPpm(d[0])).y(d => yR(d[1]));
  const gm = g.append('g').attr('clip-path', `url(#${p.id}m)`);
  gm.append('path').attr('d', lm.curve(d3.curveBasis)(p.base)).attr('fill', 'none').attr('stroke', '#555').attr('stroke-width', 1.2);
  gm.append('path').attr('d', lm.curve(d3.curveCatmullRom)(p.fit)).attr('fill', 'none').attr('stroke', '#ff0000').attr('stroke-width', 5.5).attr('stroke-linejoin', 'round');
  gm.append('path').attr('d', lm.curve(d3.curveCatmullRom)(p.data)).attr('fill', 'none').attr('stroke', '#000').attr('stroke-width', 1.4);
  g.append('g').attr('clip-path', `url(#${p.id}r)`).append('path').attr('d', lr(p.res))
    .attr('fill', 'none').attr('stroke', '#000').attr('stroke-width', 1.4);
  g.append('rect').attr('x', 930).attr('y', p.resTop).attr('width', 725).attr('height', H)
    .attr('fill', 'none').attr('stroke', '#000').attr('stroke-width', 3.5);
  g.append('line').attr('x1', 930).attr('x2', 1655).attr('y1', p.sep).attr('y2', p.sep).attr('stroke', '#000').attr('stroke-width', 3.5);
  g.append('g').attr('transform', `translate(0,${p.bottom})`)
    .call(d3.axisBottom(xPpm).tickValues(tenthTicks).tickSizeInner(8).tickSizeOuter(0).tickFormat(''))
    .call(a => { a.select('.domain').remove(); a.selectAll('line').attr('stroke', '#000').attr('stroke-width', 2.5); });
  g.append('g').attr('transform', 'translate(930,0)')
    .call(d3.axisLeft(yR).tickValues([0]).tickSize(8).tickFormat(''))
    .call(a => { a.select('.domain').remove(); a.selectAll('line').attr('stroke', '#000').attr('stroke-width', 2); });
  g.append('g').attr('transform', 'translate(930,0)')
    .call(d3.axisLeft(yM).tickValues([0]).tickSize(8).tickFormat(''))
    .call(a => { a.select('.domain').remove(); a.selectAll('line').attr('stroke', '#000').attr('stroke-width', 2); });
  p.labels.forEach(l => g.append('text').attr('transform', `translate(914,${l.y}) rotate(-90)`)
    .attr('text-anchor', 'middle').attr('dy', '0.36em').attr('font-family', FONT).attr('font-size', 27).attr('fill', '#111').text(l.t));
  g.append('text').attr('x', p.title[1]).attr('y', p.title[2]).attr('text-anchor', 'middle')
    .attr('font-family', FONT).attr('font-weight', 'bold').attr('font-size', p.title[4]).attr('fill', '#000')
    .attr('textLength', p.title[3]).attr('lengthAdjust', 'spacingAndGlyphs').text(p.title[0]);
  if (p.gaba) g.append('text').attr('x', p.gaba[0]).attr('y', p.gaba[1])
    .attr('font-family', FONT).attr('font-weight', 'bold').attr('font-size', 29).attr('fill', '#000')
    .attr('textLength', 119).attr('lengthAdjust', 'spacingAndGlyphs').text('GABA+');
  return g;
}

specPanel({id: 'sa', resTop: 47, sep: 74, bottom: 553, resDom: [-1.84, 2.3], mainDom: [-65, 9.3],
  res: staticRes, data: staticData, fit: staticFit, base: staticBase,
  labels: [{t: '2.3', y: 27}, {t: '9.3', y: 83}, {t: '0', y: 129}],
  title: ['MEGA editing: static', 1281, 30, 292, 32], gaba: [1192, 106]});

const gb = specPanel({id: 'sb', resTop: 632, sep: 728, bottom: 1138, resDom: [-8.92, 6.1], mainDom: [-50.8, 3.3],
  res: motionRes, data: motionData, fit: motionFit, base: motionBase,
  labels: [{t: '6.1', y: 617}, {t: '3.3', y: 712}, {t: '0', y: 755}],
  title: ['MEGA editing: motion & NoCo', 1295, 612, 431, 32]});

const gc = specPanel({id: 'sc', resTop: 1215, sep: 1246, bottom: 1720, resDom: [-2.23, 2.6], mainDom: [-59.1, 9.4],
  res: shmocoRes, data: shmocoData, fit: shmocoFit, base: shmocoBase,
  labels: [{t: '2.6', y: 1191}, {t: '9.4', y: 1252}, {t: '0', y: 1312}],
  title: ['MEGA editing: motion + ShMoCo + re-acquisition', 1300, 1195, 698, 29.5], gaba: [1172, 1275]});

gb.selectAll('path.arrow').data(arrowPpm).join('path').attr('class', 'arrow')
  .attr('d', d => { const c = xPpm(d); return `M${c},867 L${c+23},898 L${c+4.5},898 L${c+4.5},967 L${c-4.5},967 L${c-4.5},898 L${c-23},898 Z`; })
  .attr('fill', '#0000ff');
gb.append('text').attr('x', 947).attr('y', 1010).attr('font-family', FONT).attr('font-weight', 'bold')
  .attr('font-size', 28).attr('fill', '#0000ff').attr('textLength', 275).attr('lengthAdjust', 'spacingAndGlyphs')
  .text('Subtraction errors');

gc.selectAll('text.ppm').data(ppmTickLabels).join('text').attr('class', 'ppm')
  .attr('x', d => xPpm(+d) - 9).attr('y', 1745).attr('text-anchor', 'middle')
  .attr('font-family', "'Open Sans', 'Liberation Sans', sans-serif").attr('font-size', 21).attr('fill', '#000')
  .attr('textLength', 31).attr('lengthAdjust', 'spacingAndGlyphs').text(d => d);
gc.append('text').attr('x', 1301).attr('y', 1783).attr('text-anchor', 'middle')
  .attr('font-family', "'Open Sans', 'Liberation Sans', sans-serif").attr('font-size', 26).attr('fill', '#000')
  .attr('textLength', 278).attr('lengthAdjust', 'spacingAndGlyphs').text('Chemical Shift (ppm)');
</script>
</body></html>
